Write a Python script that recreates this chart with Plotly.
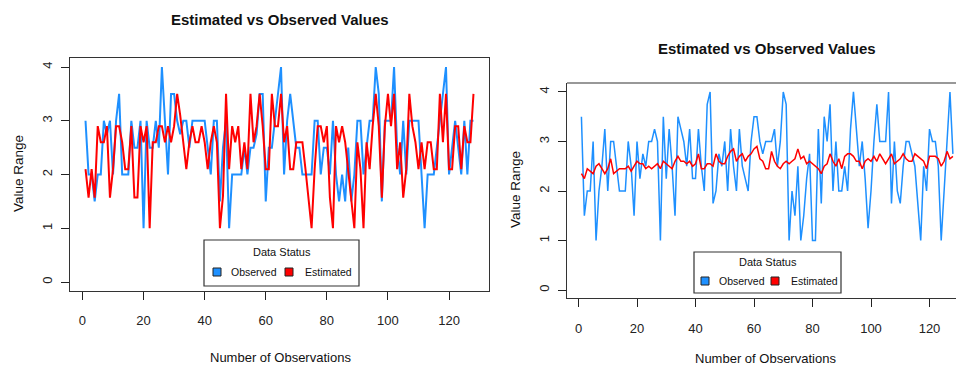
import plotly.graph_objects as go

W, H = 956, 366

obs_idx = list(range(1, 129))

left_observed = [3.0, 2.0, 2.0, 1.5, 2.0, 2.0, 3.0, 2.75, 3.0, 2.0, 3.0, 3.5, 2.0, 2.0, 2.0, 3.0,
                 2.5, 2.5, 3.0, 1.0, 3.0, 2.5, 2.5, 3.0, 2.5, 4.0, 3.0, 2.0, 3.5, 3.5, 3.0, 2.75,
                 3.0, 3.0, 2.5, 3.0, 3.0, 3.0, 3.0, 3.0, 2.5, 2.0, 3.0, 3.0, 1.5, 2.5, 3.0, 1.0,
                 2.0, 2.0, 2.0, 2.0, 2.5, 2.0, 2.5, 2.5, 2.75, 3.5, 3.5, 1.5, 2.5, 2.5, 3.0, 3.5,
                 4.0, 2.0, 3.0, 3.5, 3.0, 2.5, 2.5, 2.0, 2.0, 2.0, 2.0, 3.0, 3.0, 2.0, 2.5, 2.5,
                 2.0, 3.0, 2.0, 1.5, 2.0, 1.5, 2.5, 1.5, 2.0, 3.0, 3.0, 2.0, 2.5, 3.0, 3.0, 4.0,
                 3.5, 1.5, 3.0, 3.0, 3.0, 4.0, 2.5, 2.0, 3.0, 2.0, 3.0, 3.0, 3.0, 3.0, 2.0, 1.0,
                 2.0, 2.0, 2.0, 2.5, 3.0, 3.5, 4.0, 2.0, 2.5, 3.0, 2.5, 2.0, 3.0, 2.0, 3.0, 3.0]

left_estimated = [2.1, 1.57, 2.1, 1.57, 2.9, 2.6, 2.6, 2.9, 1.57, 2.1, 2.9, 2.9, 2.6, 2.1, 2.1, 2.9,
                  1.57, 1.57, 2.9, 2.6, 2.9, 1.0, 2.6, 2.6, 2.9, 2.9, 2.6, 2.9, 2.6, 2.9, 3.5, 3.1,
                  2.6, 2.1, 2.6, 2.9, 2.6, 2.6, 2.9, 2.6, 2.1, 2.6, 2.9, 2.6, 1.0, 1.6, 3.5, 2.1,
                  2.9, 2.6, 2.9, 2.1, 2.6, 2.1, 3.5, 2.6, 2.9, 3.5, 2.9, 2.1, 2.1, 3.5, 2.9, 2.9,
                  3.5, 2.6, 2.9, 2.1, 2.1, 2.6, 2.6, 2.6, 2.1, 1.57, 1.0, 2.1, 2.9, 2.9, 2.6, 2.9,
                  1.57, 1.0, 2.9, 2.6, 2.9, 2.6, 2.1, 1.57, 1.0, 2.6, 2.1, 1.0, 2.6, 2.1, 2.9, 3.5,
                  2.9, 1.57, 2.9, 3.5, 2.9, 3.5, 2.1, 2.6, 1.57, 2.1, 3.5, 2.9, 2.6, 2.1, 2.6, 2.1,
                  2.6, 2.6, 2.1, 2.1, 3.5, 2.6, 3.5, 2.1, 2.1, 2.9, 2.9, 2.1, 2.9, 2.6, 2.6, 3.5]

right_observed = [3.5, 1.5, 2.0, 2.0, 3.0, 1.0, 2.0, 2.5, 3.25, 2.0, 3.0, 3.0, 2.5, 2.0, 2.0, 2.0,
                  3.0, 2.5, 1.5, 3.0, 2.25, 2.75, 2.5, 3.0, 3.0, 3.25, 3.0, 1.0, 3.5, 2.25, 3.25, 2.5,
                  1.5, 3.5, 3.25, 3.0, 2.5, 3.25, 2.25, 2.25, 3.25, 2.5, 2.0, 3.75, 4.0, 1.75, 2.0, 2.75,
                  2.5, 3.0, 2.0, 3.25, 2.5, 2.0, 3.25, 2.5, 2.25, 2.0, 3.0, 3.5, 3.5, 3.0, 2.75, 3.0,
                  3.0, 3.0, 3.25, 2.5, 3.0, 4.0, 3.75, 1.0, 2.0, 1.5, 2.5, 1.0, 1.5, 2.25, 2.75, 1.0,
                  1.0, 3.25, 1.75, 3.5, 3.0, 3.75, 2.0, 3.0, 2.0, 2.0, 2.5, 2.0, 3.25, 4.0, 3.25, 2.5,
                  3.0, 2.25, 1.25, 2.0, 3.0, 3.75, 3.0, 3.0, 3.0, 4.0, 1.75, 3.0, 2.0, 1.75, 2.5, 3.0,
                  3.0, 2.75, 2.5, 1.75, 1.0, 2.5, 2.0, 3.25, 3.0, 3.0, 2.5, 1.0, 2.0, 3.0, 4.0, 2.75]

right_estimated = [2.35, 2.25, 2.45, 2.4, 2.35, 2.5, 2.55, 2.45, 2.35, 2.45, 2.65, 2.35, 2.4, 2.45, 2.45, 2.45,
                   2.5, 2.4, 2.5, 2.6, 2.55, 2.55, 2.45, 2.5, 2.45, 2.5, 2.55, 2.45, 2.6, 2.55, 2.5, 2.45,
                   2.6, 2.7, 2.6, 2.6, 2.55, 2.6, 2.5, 2.55, 2.75, 2.45, 2.45, 2.55, 2.55, 2.5, 2.75, 2.6,
                   2.55, 2.55, 2.7, 2.8, 2.85, 2.6, 2.7, 2.75, 2.6, 2.7, 2.75, 2.85, 2.9, 2.65, 2.6, 2.45,
                   2.45, 2.8, 2.6, 2.5, 2.45, 2.55, 2.6, 2.55, 2.6, 2.65, 2.85, 2.65, 2.7, 2.55, 2.6, 2.55,
                   2.5, 2.45, 2.35, 2.5, 2.55, 2.75, 2.6, 2.5, 2.65, 2.45, 2.7, 2.75, 2.75, 2.7, 2.6, 2.6,
                   2.45, 2.6, 2.65, 2.6, 2.7, 2.6, 2.75, 2.65, 2.55, 2.65, 2.75, 2.55, 2.6, 2.65, 2.75, 2.65,
                   2.6, 2.6, 2.75, 2.7, 2.65, 2.6, 2.45, 2.7, 2.7, 2.7, 2.65, 2.5, 2.6, 2.8, 2.65, 2.7]

x_ticks = [0, 20, 40, 60, 80, 100, 120]
y_ticks = [0, 1, 2, 3, 4]

TITLE = "Estimated vs Observed Values"
XLAB = "Number of Observations"
YLAB = "Value Range"
LEG_TITLE = "Data Status"
LEG_LABELS = ["Observed", "Estimated"]
BLUE = "#1E90FF"
RED = "#FF0000"
FONT = "Liberation Sans, Arial, sans-serif"

fig = go.Figure()
fig.add_trace(go.Scatter(x=obs_idx, y=left_observed, mode="lines", line=dict(color=BLUE, width=2),
                         xaxis="x", yaxis="y", showlegend=False))
fig.add_trace(go.Scatter(x=obs_idx, y=left_estimated, mode="lines", line=dict(color=RED, width=2),
                         xaxis="x", yaxis="y", showlegend=False))
fig.add_trace(go.Scatter(x=obs_idx, y=right_observed, mode="lines", line=dict(color=BLUE, width=1.5),
                         xaxis="x2", yaxis="y2", showlegend=False))
fig.add_trace(go.Scatter(x=obs_idx, y=right_estimated, mode="lines", line=dict(color=RED, width=1.5),
                         xaxis="x2", yaxis="y2", showlegend=False))

def px(v):
    return v / W

def py(v):
    return 1 - v / H

axis_common = dict(showgrid=False, zeroline=False, ticks="outside", ticklen=8, tickwidth=1,
                   tickcolor="#222", linecolor="#333", linewidth=1.2,
                   tickfont=dict(family=FONT, size=13, color="#222"), fixedrange=True)

fig.update_layout(
    width=W, height=H, margin=dict(l=0, r=0, t=0, b=0),
    paper_bgcolor="white", plot_bgcolor="white", showlegend=False,
    xaxis=dict(domain=[px(70), px(489)], range=[-4.08, 133.08], tickvals=x_ticks,
               showline=True, mirror=True, anchor="y", ticklabelstandoff=10, **axis_common),
    yaxis=dict(domain=[py(290.6), py(58.4)], range=[-0.16, 4.16], tickvals=y_ticks,
               showline=True, mirror=True, anchor="x", tickangle=-90, ticklabelstandoff=4, **axis_common),
    xaxis2=dict(domain=[px(567), 1.0], range=[-3.93, 129.06], tickvals=x_ticks,
                showline=True, mirror=False, anchor="y2", ticklabelstandoff=10, **axis_common),
    yaxis2=dict(domain=[py(298), py(83)], range=[-0.16, 4.18], tickvals=y_ticks,
                showline=True, mirror=False, anchor="x2", tickangle=-90, ticklabelstandoff=4, **axis_common),
)

# top border of right panel (right edge lies outside the picture)
fig.add_shape(type="line", xref="paper", yref="paper", x0=px(567), x1=1.0, y0=py(83), y1=py(83),
              line=dict(color="#333", width=1.2))

ann = []
# titles
ann.append(dict(text="<b>%s</b>" % TITLE, x=px(280), y=py(20), font=dict(size=15)))
ann.append(dict(text="<b>%s</b>" % TITLE, x=px(767), y=py(48), font=dict(size=15)))
# axis titles
ann.append(dict(text=XLAB, x=px(280), y=py(357), font=dict(size=13)))
ann.append(dict(text=XLAB, x=px(765), y=py(358), font=dict(size=13)))
ann.append(dict(text=YLAB, x=px(18), y=py(174), font=dict(size=13.5), textangle=-90))
ann.append(dict(text=YLAB, x=px(515), y=py(190), font=dict(size=13.5), textangle=-90))

# legends (drawn like R legend boxes)
def legend(x0, x1, y0, y1, ty, iy, sq1, t1, sq2, t2):
    fig.add_shape(type="rect", xref="paper", yref="paper", x0=px(x0), x1=px(x1), y0=py(y1), y1=py(y0),
                  line=dict(color="#333", width=1.2), fillcolor="white")
    ann.append(dict(text=LEG_TITLE, x=px((x0 + x1) / 2), y=py(ty), font=dict(size=11)))
    for sq, col, tx, lab in [(sq1, BLUE, t1, LEG_LABELS[0]), (sq2, RED, t2, LEG_LABELS[1])]:
        fig.add_shape(type="rect", xref="paper", yref="paper", x0=px(sq - 4), x1=px(sq + 4),
                      y0=py(iy + 4), y1=py(iy - 4), line=dict(color="#222", width=1), fillcolor=col)
        ann.append(dict(text=lab, x=px(tx), y=py(iy), xanchor="left", font=dict(size=10.5)))

legend(204, 359, 240, 286, 252, 272, 217, 229, 289, 303)
legend(694, 841, 252, 293, 262, 281, 705, 717, 775, 789)

for a in ann:
    a.setdefault("xanchor", "center")
    a.update(xref="paper", yref="paper", yanchor="middle", showarrow=False)
    f = a.get("font", {})
    f.update(family=FONT, color="#111")
    a["font"] = f
fig.update_layout(annotations=ann)

fig.write_html("out.html")
